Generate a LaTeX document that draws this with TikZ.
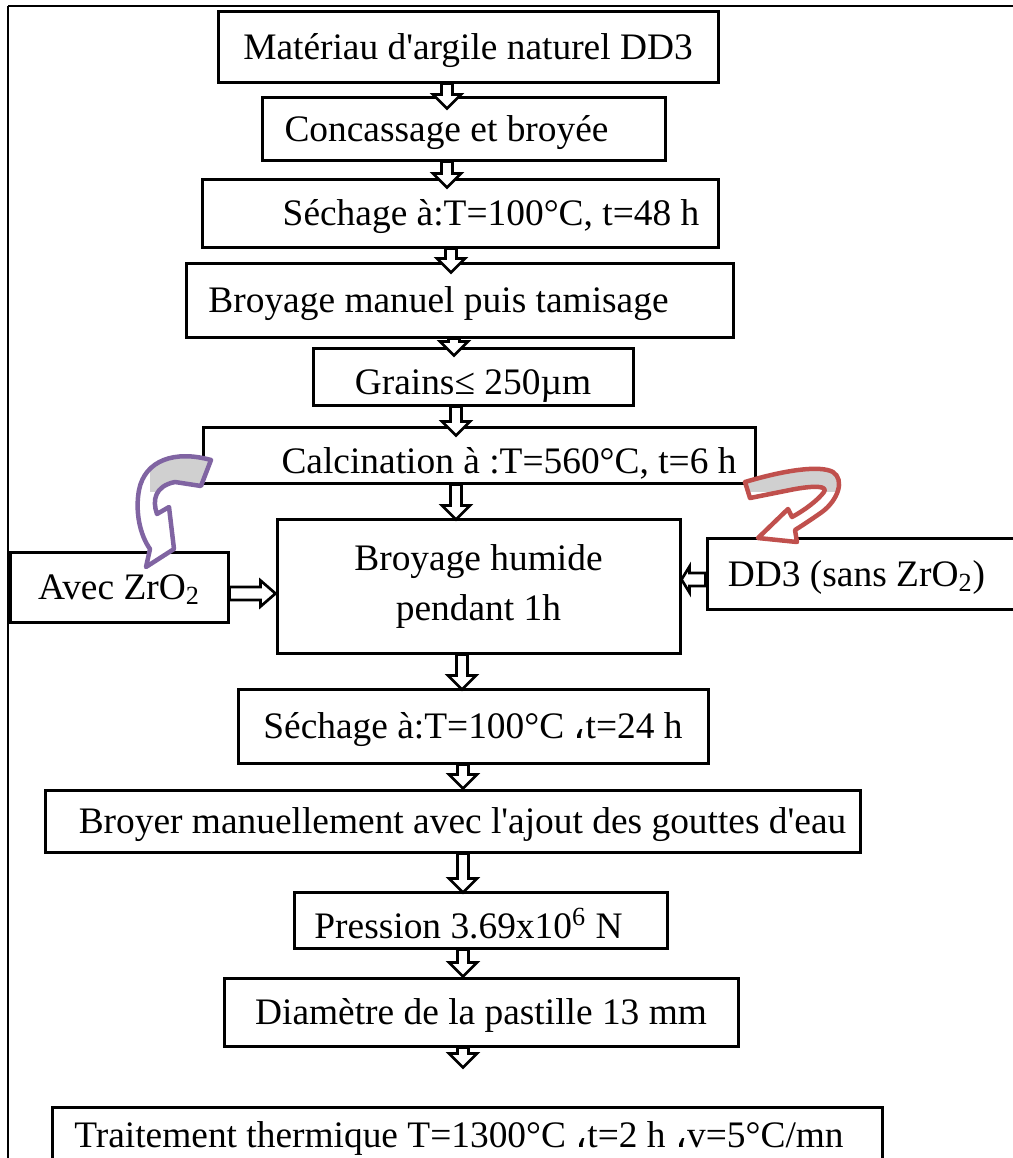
\documentclass[tikz,border=0pt]{standalone}
\usepackage{fontspec}
\setmainfont{Liberation Serif}
\newfontfamily\arabicfont[Script=Arabic]{DejaVu Sans}
\usepackage{tikz}
\usetikzlibrary{calc}
\definecolor{arcpurple}{HTML}{8064A2}
\definecolor{arcred}{HTML}{C0504D}
\definecolor{bandgray}{HTML}{D0D0D0}
\newcommand{\acomma}{{\arabicfont ،}}
\newcommand{\flowdown}[4]{%
  \draw[flowarrow] let \p1=(#1.south), \p2=(#2.north), \p3=({#3*0.5pt},{\y2-(#4)*0.5pt}) in
    (\x3-2.75pt,\y1) -- (\x3-2.75pt,\y3+7pt) -- (\x3-7pt,\y3+7pt) -- (\x3,\y3)
    -- (\x3+7pt,\y3+7pt) -- (\x3+2.75pt,\y3+7pt) -- (\x3+2.75pt,\y1) -- cycle;}
\newcommand{\flowside}[4]{%
  \draw[flowarrow] let \p1=(#1), \p2=(#2), \p3=({\x2-sign(\x2-\x1)*#4*0.5pt},{-#3*0.5pt}) in
    (\x1,\y3+3.25pt) -- (\x3,\y3+3.25pt) -- (\x3,\y3+6.5pt) -- (\x2,\y3)
    -- (\x3,\y3-6.5pt) -- (\x3,\y3-3.25pt) -- (\x1,\y3-3.25pt) -- cycle;}

\begin{document}
\begin{tikzpicture}[x=0.5pt,y=-0.5pt,
box/.style={draw,rectangle,line width=1.5pt,inner sep=0pt,align=center,
  text height=15pt,text depth=2.5pt,font=\fontsize{18.7}{25}\selectfont},
lowtext/.style={text height=19pt,text depth=1pt},
flowarrow/.style={draw,line width=1.35pt,fill=white,line join=miter}]
\useasboundingbox (0,0) rectangle (1013,1158);
\draw[line width=1.25pt] (8,6) -- (1013,6);
\draw[line width=0.75pt] (8,6) -- (8,1158);

\node (raw) [box,minimum width=250pt,minimum height=35.5pt] at (468,46.5)
  {Matériau d\textquotesingle argile naturel DD3};
\node (crush) [box,minimum width=201.5pt,minimum height=31.5pt] at (463.5,128.5)
  {Concassage et broyée\hspace*{17pt}};
\node (dry1) [box,minimum width=258pt,minimum height=34pt] at (460,213)
  {\hspace*{31pt}Séchage à:T=100°C, t=48 h};
\node (sieve) [box,minimum width=273.5pt,minimum height=37pt] at (459.5,300)
  {Broyage manuel puis tamisage\hspace*{21pt}};
\node (grains) [box,lowtext,minimum width=160pt,minimum height=28.5pt] at (473,376.5)
  {Grains≤ 250µm};
\node (calc) [box,lowtext,minimum width=276pt,minimum height=28pt] at (479,455)
  {\hspace*{30pt}Calcination à :T=560°C, t=6 h};
\node (wet) [box,minimum width=201.5pt,minimum height=67pt,text height=,text depth=] at (478.5,586)
  {Broyage humide\\pendant 1h};
\node (zro) [box,minimum width=109pt,minimum height=35pt] at (119,587)
  {Avec ZrO\textsubscript{2}};
\node (nozro) [box,minimum width=161.5pt,minimum height=35.5pt] at (868.5,573.5)
  {DD3 (sans ZrO\textsubscript{2})\hspace*{12pt}};
\node (dry2) [box,minimum width=235pt,minimum height=37pt] at (473,726)
  {Séchage à:T=100°C \acomma t=24 h};
\node (mix) [box,minimum width=407.5pt,minimum height=31pt] at (452.5,821)
  {\hspace*{10pt}Broyer manuellement avec l\textquotesingle ajout des gouttes d\textquotesingle eau};
\node (press) [box,lowtext,minimum width=186.5pt,minimum height=28pt] at (480.5,920)
  {Pression 3.69x10\textsuperscript{6} N\hspace*{12pt}};
\node (pellet) [box,minimum width=257pt,minimum height=34pt] at (481,1012)
  {Diamètre de la pastille 13 mm};
\node (heat) [box,minimum width=415pt,minimum height=28pt] at (467,1135)
  {Traitement thermique T=1300°C \acomma t=2 h \acomma v=5°C/mn\hspace*{8pt}};

\flowdown{raw}{crush}{447}{13}
\flowdown{crush}{dry1}{447}{10}
\flowdown{dry1}{sieve}{451}{11}
\flowdown{sieve}{grains}{454}{9}
\flowdown{grains}{calc}{456}{10}
\flowdown{calc}{wet}{456}{2}
\flowdown{wet}{dry2}{462}{2}
\flowdown{dry2}{mix}{463}{0}
\flowdown{mix}{press}{463}{2}
\flowdown{press}{pellet}{463}{0}
\flowdown{pellet}{heat}{463}{-38}
\flowside{zro.east}{wet.west}{593.5}{15}
\flowside{nozro.west}{wet.east}{579.5}{8}

\def\purplearc{(211,460) .. controls (175,450) and (145,460) .. (139,490)
  .. controls (135,512) and (140,535) .. (150,549) -- (146,567) -- (174,549)
  -- (169,507) -- (157,514) .. controls (152,500) and (155,486) .. (175,482)
  -- (201,486) -- cycle}
\fill[white] \purplearc;
\begin{scope}
\clip \purplearc;
\fill[bandgray] (150,440) rectangle (215,492);
\end{scope}
\draw[arcpurple,line width=2.25pt,line join=round] \purplearc;

\def\redarc{(745,482) .. controls (785,470) and (820,465) .. (833,472)
  .. controls (845,480) and (838,500) .. (822,512) .. controls (812,519) and (803,525) .. (795,530)
  -- (797,542) -- (758,538) -- (788,509) -- (792,517)
  .. controls (805,510) and (818,500) .. (824,492) .. controls (828,486) and (815,485) .. (790,490)
  -- (750,498) -- cycle}
\fill[white] \redarc;
\begin{scope}
\clip \redarc;
\fill[bandgray] (740,460) rectangle (840,492);
\end{scope}
\draw[arcred,line width=2.25pt,line join=round] \redarc;
\end{tikzpicture}
\end{document}
